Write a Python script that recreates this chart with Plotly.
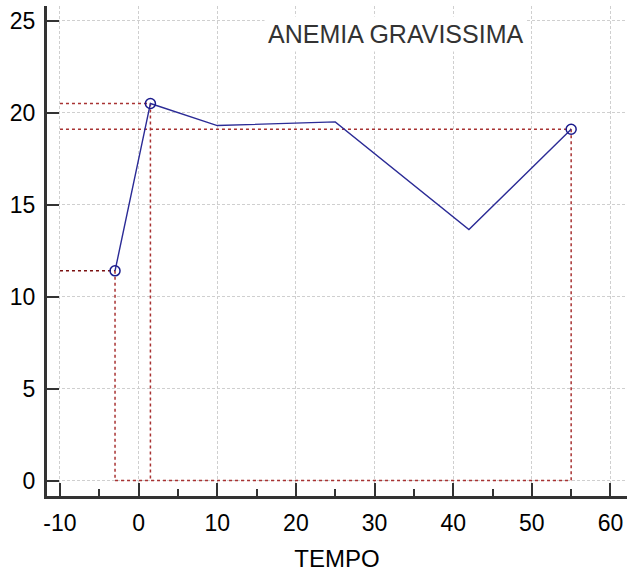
import plotly.graph_objects as go

# Data
tempo = [-3, 1.5, 10, 25, 42, 55]
valori = [11.4, 20.5, 19.3, 19.5, 13.65, 19.1]
marked_idx = [0, 1, 5]
x_ticks = [-10, 0, 10, 20, 30, 40, 50, 60]
x_tick_labels = ["-10", "0", "10", "20", "30", "40", "50", "60"]
y_ticks = [0, 5, 10, 15, 20, 25]
titolo = "ANEMIA GRAVISSIMA"
x_label = "TEMPO"

ref_color = "#a83232"
line_color = "#2b2b96"
axis_color = "#333333"
grid_color = "#cfcfcf"
font_family = "Liberation Sans, Arial, sans-serif"

fig = go.Figure()

x0 = x_ticks[0]
for i in marked_idx:
    col = "#7a1010" if i == 0 else ref_color
    fig.add_trace(go.Scatter(x=[x0, tempo[i]], y=[valori[i], valori[i]], mode="lines",
                             line=dict(color=col, width=1.5, dash="dot"),
                             hoverinfo="skip", showlegend=False))
    fig.add_trace(go.Scatter(x=[tempo[i], tempo[i]], y=[valori[i], 0], mode="lines",
                             line=dict(color=ref_color, width=1.5, dash="dot"),
                             hoverinfo="skip", showlegend=False))
fig.add_trace(go.Scatter(x=[tempo[marked_idx[0]], tempo[marked_idx[-1]]], y=[0, 0], mode="lines",
                         line=dict(color=ref_color, width=1.5, dash="dot"),
                         hoverinfo="skip", showlegend=False))

fig.add_trace(go.Scatter(x=tempo, y=valori, mode="lines",
                         line=dict(color=line_color, width=1.4), showlegend=False))
fig.add_trace(go.Scatter(x=[tempo[i] for i in marked_idx], y=[valori[i] for i in marked_idx],
                         mode="markers",
                         marker=dict(symbol="circle-open", size=10, color="#1a1a8c",
                                     line=dict(width=1.5, color="#1a1a8c")),
                         showlegend=False))

fig.add_annotation(x=32.6, y=24.3, xref="x", yref="y", text=titolo, showarrow=False,
                   font=dict(family=font_family, size=25, color="#333333"),
                   bgcolor="white", borderpad=3)

fig.update_layout(
    width=627, height=578,
    margin=dict(l=47, r=0, t=6, b=82, autoexpand=False),
    paper_bgcolor="white", plot_bgcolor="white",
    font=dict(family=font_family, size=23, color="black"),
    xaxis=dict(range=[-11.65, 62.1], tickvals=x_ticks, ticktext=x_tick_labels,
               showline=True, linecolor=axis_color,
               linewidth=3, ticks="inside", ticklen=13, tickwidth=2, tickcolor=axis_color,
               minor=dict(dtick=5, tick0=0, ticks="inside", ticklen=7, tickwidth=2, tickcolor=axis_color, showgrid=False),
               showgrid=True, gridcolor=grid_color, griddash="3px,2px", gridwidth=1,
               zeroline=False, automargin=False, ticklabelstandoff=4,
               title=dict(text=x_label, standoff=16, font=dict(size=24, color="black")),
               tickfont=dict(size=23, color="black")),
    yaxis=dict(range=[-0.84, 25.8], tickvals=y_ticks, showline=True, linecolor=axis_color,
               linewidth=3, ticks="inside", ticklen=12, tickwidth=2, tickcolor=axis_color,
               showgrid=True, gridcolor=grid_color, griddash="3px,2px", gridwidth=1,
               zeroline=False, automargin=False, ticklabelstandoff=4,
               tickfont=dict(size=23, color="black")),
)

fig.write_html("out.html", config={"displayModeBar": False},
               post_script="document.body.style.margin='0';")
